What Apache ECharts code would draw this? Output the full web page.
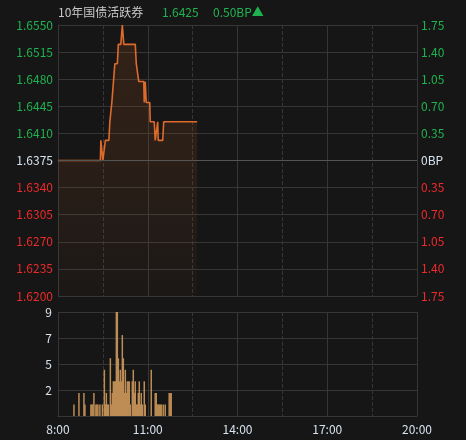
<!DOCTYPE html>
<html>
<head>
<meta charset="utf-8">
<script src="https://cdn.jsdelivr.net/npm/echarts@6/dist/echarts.min.js"></script>
<style>
html,body{margin:0;padding:0;background:#161616;}
#c{width:466px;height:440px;}
</style>
</head>
<body>
<div id="c"></div>
<script>
// ---- data ----
const titleName = '10年国债活跃券';
const lastPrice = '1.6425';
const changeText = '0.50BP▲';
const preClose = 1.6375;

const priceTimes = ['8:00','9:25','9:26','9:29','9:30','9:34','9:35','9:42','9:44','9:47','9:48','9:52','9:54','9:59','10:01','10:06','10:09','10:12','10:35','10:37','10:40','10:42','10:52','10:53','10:55','10:57','11:04','11:05','11:13','11:15','11:19','11:20','11:21','11:30','11:32','12:39'];
const priceValues = [1.6375,1.6375,1.6401,1.6401,1.6375,1.6375,1.6401,1.6401,1.6425,1.6425,1.6450,1.6450,1.6500,1.6500,1.6525,1.6525,1.6550,1.6525,1.6525,1.6500,1.6500,1.6477,1.6477,1.6450,1.6477,1.6450,1.6450,1.6425,1.6425,1.6401,1.6401,1.6425,1.6401,1.6401,1.6425,1.6425];

const volTimes = ['8:32','8:42','8:52','8:54','9:06','9:08','9:10','9:12','9:16','9:18','9:20','9:24','9:29','9:33','9:35','9:37','9:39','9:41','9:45','9:47','9:49','9:51','9:53','9:55','9:57','9:59','10:01','10:03','10:05','10:07','10:09','10:11','10:13','10:15','10:17','10:19','10:21','10:23','10:25','10:29','10:31','10:33','10:35','10:37','10:39','10:41','10:43','10:45','10:47','10:49','10:53','10:55','11:07','11:15','11:17','11:19','11:21','11:23','11:25','11:27','11:31','11:35','11:43','11:45','11:47'];
const volValues = [1,2,2,1,1,1,1,2,1,1,1,1,1,4,1,2,1,1,5,1,2,3,3,3,9,9,5,3,4,3,7,5,2,4,2,3,3,3,1,3,4,2,3,1,1,2,3,1,2,1,3,1,4,2,2,1,1,1,1,1,1,1,2,2,2];

const xTickLabels = ['8:00','11:00','14:00','17:00','20:00'];
const priceStep = 0.0035;
const priceHalfRange = 0.0175;
const volMax = 9;

// ---- helpers ----
function toMin(t){ const p=t.split(':'); return (+p[0]-8)*60 + (+p[1]); }
function fmtTime(m){ const idx = Math.round(m/180); return xTickLabels[idx] || ''; }

const FONT = "'Microsoft YaHei','Noto Sans CJK SC',sans-serif";
const GREEN = '#1fb34f', RED = '#ee2a2a', NEUTRAL = '#d6e2ee';
const GRID = '#363636';

const priceData = priceTimes.map((t,i)=>[toMin(t), +(priceValues[i]-preClose).toFixed(6)]);
const volData = volTimes.map((t,i)=>[toMin(t), volValues[i]]);

function sideColor(v){ if (Math.abs(v) < 1e-9) return NEUTRAL; return v>0?GREEN:RED; }

const chart = echarts.init(document.getElementById('c'), null, {renderer:'canvas'});
chart.setOption({
  backgroundColor:'#161616',
  animation:false,
  textStyle:{fontFamily:FONT},
  graphic:[
    {type:'text', left:58, top:6, style:{text:titleName, fill:'#c8c8c8', font:'12px '+FONT}},
    {type:'text', left:162, top:6, style:{text:lastPrice, fill:GREEN, font:'12px '+FONT}},
    {type:'text', left:213, top:6, style:{text:changeText, fill:GREEN, font:'12px '+FONT}}
  ],
  grid:[
    {left:58, right:49, top:25, height:271},
    {left:58, right:49, top:312, height:104}
  ],
  xAxis:[
    {gridIndex:0, type:'value', min:0, max:720, interval:180,
     axisLine:{show:true, lineStyle:{color:GRID}}, axisTick:{show:false}, axisLabel:{show:false},
     splitLine:{show:true, lineStyle:{color:GRID, width:1}},
     minorTick:{show:false, splitNumber:2},
     minorSplitLine:{show:true, lineStyle:{color:GRID, type:'dashed'}}},
    {gridIndex:1, type:'value', min:0, max:720, interval:180,
     axisLine:{show:true, lineStyle:{color:GRID}}, axisTick:{show:false},
     axisLabel:{show:true, color:NEUTRAL, fontSize:12, margin:7, formatter:fmtTime},
     splitLine:{show:true, lineStyle:{color:GRID, width:1}},
     minorTick:{show:false, splitNumber:2},
     minorSplitLine:{show:true, lineStyle:{color:GRID, type:'dashed'}}}
  ],
  yAxis:[
    {gridIndex:0, type:'value', min:-priceHalfRange, max:priceHalfRange, interval:priceStep,
     axisLine:{show:true, lineStyle:{color:GRID}}, axisTick:{show:false},
     splitLine:{show:true, lineStyle:{color:GRID}},
     axisLabel:{fontSize:12, margin:5, color:(v)=>sideColor(+v),
       formatter:(v)=>(preClose+v).toFixed(4)}},
    {gridIndex:0, type:'value', position:'right', min:-priceHalfRange, max:priceHalfRange, interval:priceStep,
     axisLine:{show:true, lineStyle:{color:GRID}}, axisTick:{show:false}, splitLine:{show:false},
     axisLabel:{fontSize:12, margin:4, color:(v)=>sideColor(+v),
       formatter:(v)=> Math.abs(v)<1e-9 ? '0BP' : Math.abs(v*100).toFixed(2)}},
    {gridIndex:1, type:'value', min:0, max:volMax, interval:volMax/4,
     axisLine:{show:true, lineStyle:{color:GRID}}, axisTick:{show:false},
     splitLine:{show:true, lineStyle:{color:GRID}},
     axisLabel:{fontSize:12, margin:6, color:NEUTRAL, formatter:(v)=> v===0 ? '' : String(Math.round(v))}}
  ],
  series:[
    {type:'line', xAxisIndex:0, yAxisIndex:0, data:priceData, symbol:'none',
     lineStyle:{color:'#de6a2c', width:1.6},
     areaStyle:{origin:'start', color:new echarts.graphic.LinearGradient(0,0,0,1,[
       {offset:0, color:'rgba(160,80,30,0.30)'},
       {offset:0.5, color:'rgba(160,80,30,0.21)'},
       {offset:1, color:'rgba(160,80,30,0.05)'}])},
     markLine:{silent:true, symbol:'none', label:{show:false},
       lineStyle:{color:'#555', type:'solid', width:1}, data:[{yAxis:0}]}},
    {type:'bar', xAxisIndex:1, yAxisIndex:2, data:volData, barWidth:1.5,
     itemStyle:{color:'#bd8d55'}}
  ]
});
</script>
</body>
</html>
